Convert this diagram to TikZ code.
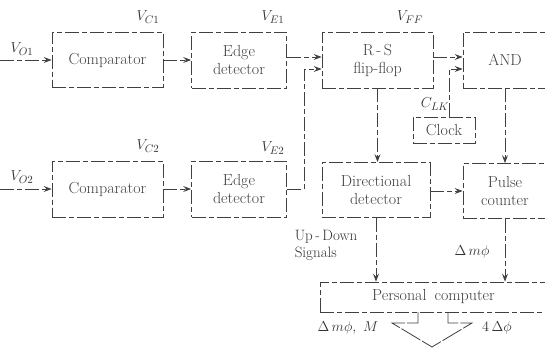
\documentclass[tikz,border=0pt]{standalone}
\usetikzlibrary{arrows.meta,positioning}
\begin{document}
\begin{tikzpicture}[x=1pt,y=-1pt,
		ln/.style={black!75, line width=0.8pt, dash pattern=on 14pt off 3pt on 5pt off 3pt},
		blk/.style={ln, draw, inner sep=0pt, align=center, font=\fontsize{16}{18}\selectfont},
		arr/.style={ln, -{Stealth[length=8pt,width=6pt,inset=3pt]}},
		lbl/.style={black!80, font=\fontsize{15}{17}\selectfont}]
		\useasboundingbox (0,0) rectangle (545,350);
		\clip (0,0) rectangle (545,350);

		% upper row
		\node[blk, minimum width=111, minimum height=55] (cmp1) at (107.5,60) {Comparator};
		\node[blk, minimum width=95, minimum height=56] (ed1) at (239,60) {Edge\\detector};
		\node[blk, minimum width=111, minimum height=56] (ff) at (377.5,60) {R\,-\,S\\flip-flop};
		\node[blk, minimum width=84, minimum height=56] (and) at (505,60) {AND};
		\node[blk, minimum width=62, minimum height=26] (clk) at (444,130) {Clock};

		% lower row
		\node[blk, minimum width=111, minimum height=56] (cmp2) at (107.5,189) {Comparator};
		\node[blk, minimum width=95, minimum height=56] (ed2) at (239,189) {Edge\\detector};
		\node[blk, minimum width=108, minimum height=55] (dd) at (376,190) {Directional\\detector};
		\node[blk, minimum width=84, minimum height=55] (cnt) at (505,191) {Pulse\\counter};
		\node[blk, minimum width=227, minimum height=30] (pc) at (433.5,297) {Personal\enspace computer};

		% signal names
		\node[lbl] (vo1) at (22,49) {$V_{O1}$};
		\node[lbl] (vc1) at (148,17) {$V_{C1}$};
		\node[lbl] (ve1) at (273,17) {$V_{E1}$};
		\node[lbl] (vff) at (410,17) {$V_{FF}$};
		\node[lbl] (clk1) at (435,104) {$C_{LK}$};
		\node[lbl] (vo2) at (22,177) {$V_{O2}$};
		\node[lbl] (vc2) at (148,146) {$V_{C2}$};
		\node[lbl] (ve2) at (273,148) {$V_{E2}$};
		\node[lbl, align=left] (uds) at (326,245) {Up\,-\,Down\\Signals};
		\node[lbl] (dmp) at (472,252) {$\Delta\,m\phi$};
		\node[lbl] (outa) at (348,328) {$\Delta\,m\phi,\ M$};
		\node[lbl] (outb) at (497,328) {$4\,\Delta\phi$};

		\coordinate (in1) at (0,60);
		\coordinate (in2) at (0,189);
		\coordinate (e2up) at ([xshift=17pt]ed2.east);

		\draw[arr] (in1) -- (cmp1.west);
		\draw[arr] (cmp1) -- (ed1);
		\draw[arr] ([yshift=3pt]ed1.east) -- ([yshift=3pt]ff.west);
		\draw[arr] ([yshift=3pt]ff.east) -- ([yshift=3pt]and.west);
		\draw[arr] ([xshift=5pt]clk.north) |- ([yshift=-9pt]and.west);
		\draw[arr] (in2) -- (cmp2.west);
		\draw[arr] (cmp2) -- (ed2);
		\draw[arr] (ed2.east) -- (e2up) |- ([yshift=-9pt]ff.west);
		\draw[arr] (ff.south) -- (ff.south |- dd.north);
		\draw[arr] (and.south) -- (cnt.north);
		\draw[arr] (dd.east |- cnt) -- (cnt.west);
		\draw[arr] (dd.south) -- (dd.south |- pc.north);
		\draw[arr] (cnt.south) -- (cnt.south |- pc.north);

		% output arrow
		\draw[ln, dash pattern=on 22pt off 2pt] (418,312) -- (418,323) -- (392,323) -- (432,347) -- (472,323) -- (448,323) -- (448,312);

	\end{tikzpicture}
\end{document}
